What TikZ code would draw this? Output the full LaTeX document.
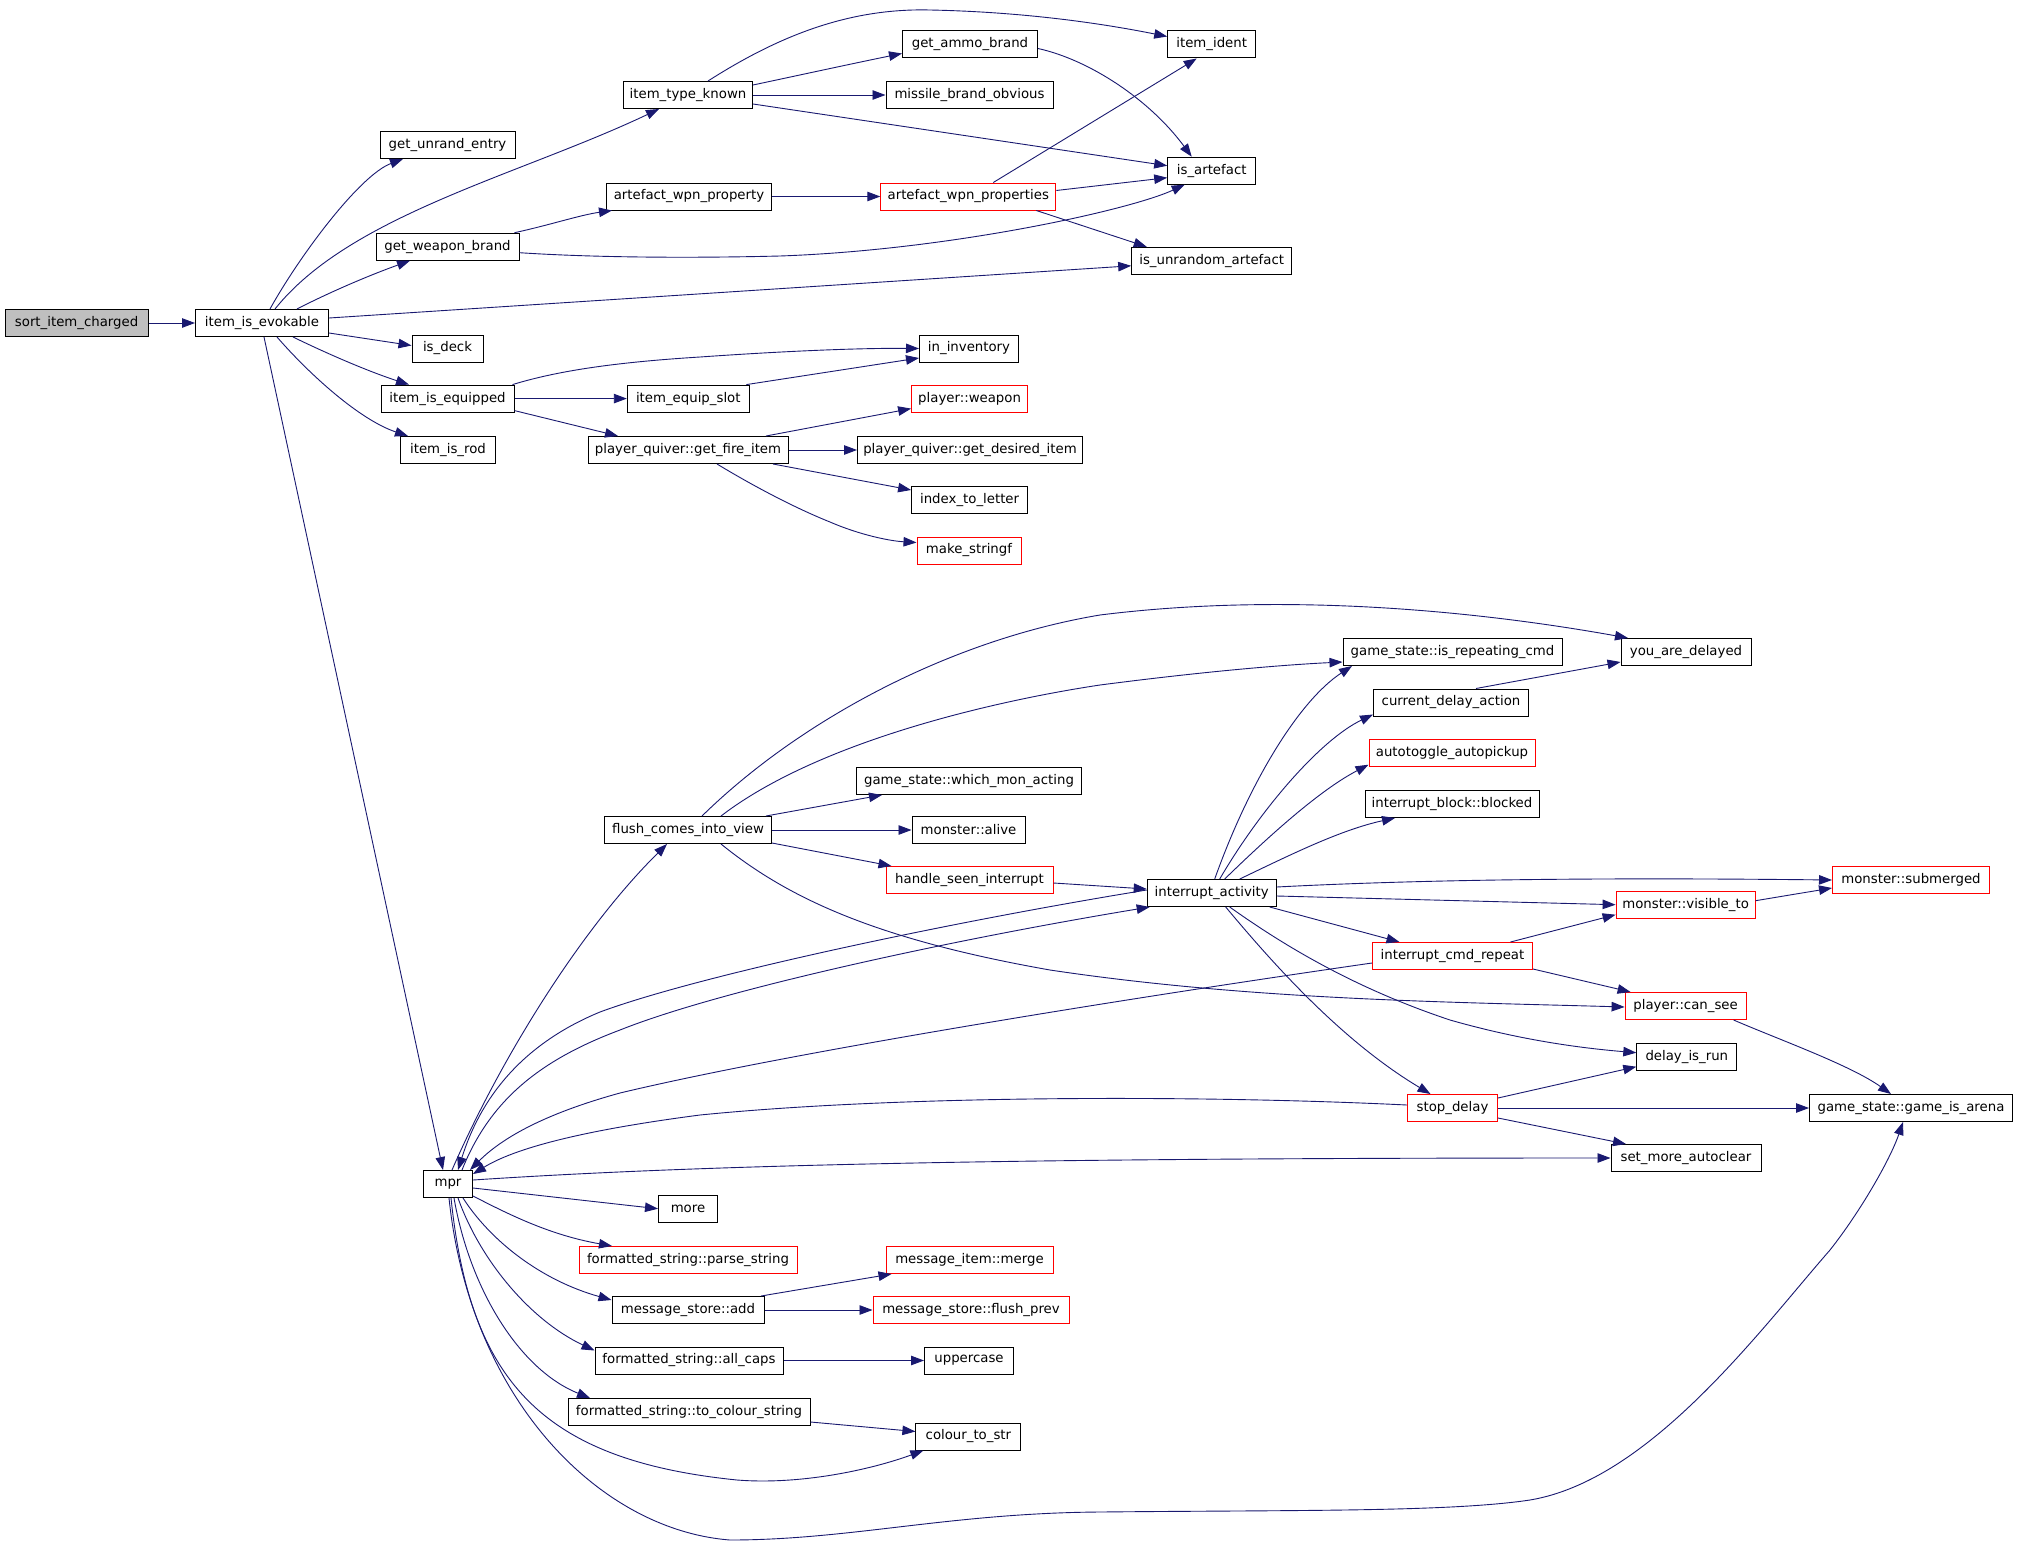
\documentclass[tikz,border=0pt]{standalone}
\usepackage{fontspec}
\setmainfont{DejaVu Sans}
\usetikzlibrary{arrows.meta}
\definecolor{edgeblue}{HTML}{191970}
\definecolor{nodered}{HTML}{FF0000}
\definecolor{rootgray}{HTML}{BFBFBF}
\begin{document}
\begin{tikzpicture}[x=1pt,y=-1pt,
  box/.style={draw=black, line width=1pt, fill=white, inner xsep=2pt, inner ysep=0pt,
    minimum height=27pt, font=\fontsize{13.3}{15}\selectfont},
  redbox/.style={box, draw=nodered},
  rootbox/.style={box, fill=rootgray},
  edge/.style={draw=edgeblue, line width=0.9pt, -{Triangle[length=13pt,width=9.5pt]}}]
\useasboundingbox[fill=white] (0,0) rectangle (2019,1555);

% ---- upper part ----
\node[rootbox, minimum width=143pt] (sort) at (76.6,323) {sort\_item\_charged};
\node[box, minimum width=133pt] (evok) at (262,323) {item\_is\_evokable};
\node[box, minimum width=135pt] (unrand) at (447.5,145) {get\_unrand\_entry};
\node[box, minimum width=129pt] (itk) at (688,95) {item\_type\_known};
\node[box, minimum width=88pt] (ident) at (1211.7,44.5) {item\_ident};
\node[box, minimum width=135pt] (ammo) at (970,44.5) {get\_ammo\_brand};
\node[box, minimum width=167pt] (mbo) at (969.5,95) {missile\_brand\_obvious};
\node[box, minimum width=88pt] (isart) at (1211.7,170.7) {is\_artefact};
\node[box, minimum width=165pt] (awp) at (689,196.5) {artefact\_wpn\_property};
\node[redbox, minimum width=175pt] (awps) at (968.3,196.5) {artefact\_wpn\_properties};
\node[box, minimum width=143pt] (gwb) at (447.5,246.7) {get\_weapon\_brand};
\node[box, minimum width=160pt] (unr) at (1211.7,260.8) {is\_unrandom\_artefact};
\node[box, minimum width=71pt] (deck) at (447.5,348.5) {is\_deck};
\node[box, minimum width=99pt] (inv) at (969,348.5) {in\_inventory};
\node[box, minimum width=133pt] (equip) at (447.5,398.6) {item\_is\_equipped};
\node[box, minimum width=122pt] (slot) at (688.3,398.6) {item\_equip\_slot};
\node[redbox, minimum width=116pt] (weapon) at (969.6,398.6) {player::weapon};
\node[box, minimum width=95pt] (rod) at (448,450) {item\_is\_rod};
\node[box, minimum width=200pt] (fire) at (688,450) {player\_quiver::get\_fire\_item};
\node[box, minimum width=225pt] (desired) at (970,450) {player\_quiver::get\_desired\_item};
\node[box, minimum width=116pt] (letter) at (969.6,500) {index\_to\_letter};
\node[redbox, minimum width=104pt] (mkstr) at (969,550.5) {make\_stringf};

% ---- lower part ----
\node[box, minimum width=130pt] (yad) at (1686,652) {you\_are\_delayed};
\node[box, minimum width=219pt] (rep) at (1452.5,652) {game\_state::is\_repeating\_cmd};
\node[box, minimum width=155pt] (cda) at (1451,702.5) {current\_delay\_action};
\node[redbox, minimum width=166pt] (auto) at (1452,752.7) {autotoggle\_autopickup};
\node[box, minimum width=225pt] (wma) at (969,781) {game\_state::which\_mon\_acting};
\node[box, minimum width=174pt] (blk) at (1452,804) {interrupt\_block::blocked};
\node[box, minimum width=167pt] (flush) at (688,830) {flush\_comes\_into\_view};
\node[box, minimum width=113pt] (alive) at (968.5,830) {monster::alive};
\node[redbox, minimum width=167pt] (hsi) at (969.5,880) {handle\_seen\_interrupt};
\node[box, minimum width=129pt] (ia) at (1211.7,893) {interrupt\_activity};
\node[redbox, minimum width=157pt] (sub) at (1911,880) {monster::submerged};
\node[redbox, minimum width=139pt] (vis) at (1685.6,904.7) {monster::visible\_to};
\node[redbox, minimum width=160pt] (icr) at (1452.5,956) {interrupt\_cmd\_repeat};
\node[redbox, minimum width=121pt] (cansee) at (1685.6,1006) {player::can\_see};
\node[box, minimum width=100pt] (dir) at (1686.8,1056.7) {delay\_is\_run};
\node[redbox, minimum width=90pt] (stop) at (1452.5,1108) {stop\_delay};
\node[box, minimum width=203pt] (arena) at (1911,1108) {game\_state::game\_is\_arena};
\node[box, minimum width=150pt] (smac) at (1686,1158) {set\_more\_autoclear};
\node[box, minimum width=49pt] (mpr) at (448,1184) {mpr};
\node[box, minimum width=59pt] (more) at (688,1208.7) {more};
\node[redbox, minimum width=218pt] (parse) at (688,1260) {formatted\_string::parse\_string};
\node[redbox, minimum width=167pt] (merge) at (969.5,1260) {message\_item::merge};
\node[box, minimum width=152pt] (add) at (688,1310) {message\_store::add};
\node[redbox, minimum width=196pt] (fprev) at (971,1310) {message\_store::flush\_prev};
\node[box, minimum width=188pt] (caps) at (689,1360.5) {formatted\_string::all\_caps};
\node[box, minimum width=89pt] (upper) at (969,1360.5) {uppercase};
\node[box, minimum width=242pt] (tcs) at (689,1412) {formatted\_string::to\_colour\_string};
\node[box, minimum width=105pt] (cts) at (968.4,1436.5) {colour\_to\_str};

% ---- edges, upper part ----
\draw[edge] (sort.east) -- (evok.west);
\draw[edge] ([xshift=8pt]evok.north) .. controls (300,255) and (360,175) .. ([xshift=-44.5pt]unrand.south);
\draw[edge] ([xshift=13pt]evok.north) .. controls (350,215) and (520,175) .. ([xshift=-29pt]itk.south);
\draw[edge] ([xshift=35pt]evok.north) .. controls (330,292) and (370,275) .. ([xshift=-37.5pt]gwb.south);
\draw[edge] ([yshift=5pt]evok.east) -- ([yshift=-5pt]unr.west);
\draw[edge] ([yshift=-10pt]evok.east) -- ([yshift=3pt]deck.west);
\draw[edge] ([xshift=31pt]evok.south) .. controls (330,355) and (370,372) .. ([xshift=-38.5pt]equip.north);
\draw[edge] ([xshift=15pt]evok.south) .. controls (310,375) and (360,420) .. ([xshift=-40pt]rod.north);
\draw[edge] ([xshift=2pt]evok.south) -- ([xshift=-5pt]mpr.north);

\draw[edge] ([xshift=20pt]itk.north) .. controls (780,35) and (850,8) .. (930,10)
   .. controls (1030,12) and (1110,25) .. ([yshift=8pt]ident.west);
\draw[edge] ([yshift=10pt]itk.east) .. controls (800,75) and (860,62) .. ([yshift=-9pt]ammo.west);
\draw[edge] (itk.east) -- (mbo.west);
\draw[edge] ([yshift=-9pt]itk.east) -- ([yshift=5pt]isart.west);
\draw[edge] ([yshift=-4pt]ammo.east) .. controls (1090,60) and (1150,100) .. ([xshift=-20pt]isart.north);
\draw[edge] (awp.east) -- (awps.west);
\draw[edge] ([xshift=25pt]awps.north) -- ([xshift=-15pt]ident.south);
\draw[edge] ([yshift=6pt]awps.east) -- ([yshift=-7pt]isart.west);
\draw[edge] ([xshift=68pt]awps.south) -- ([xshift=-65pt]unr.north);
\draw[edge] ([xshift=67pt]gwb.north) .. controls (550,225) and (580,215) .. ([xshift=-77pt]awp.south);
\draw[edge] ([yshift=-6pt]gwb.east) .. controls (600,258) and (700,258) .. (780,256)
   .. controls (950,250) and (1130,210) .. ([xshift=-27pt]isart.south);
\draw[edge] ([xshift=65pt]equip.north) .. controls (560,370) and (620,362) .. (700,357)
   .. controls (800,350) and (870,348) .. (inv.west);
\draw[edge] (equip.east) -- (slot.west);
\draw[edge] ([yshift=-12pt]equip.east) -- ([xshift=-70pt]fire.north);
\draw[edge] ([xshift=58pt]slot.north) -- ([yshift=-9.5pt]inv.west);
\draw[edge] ([xshift=78pt]fire.north) -- ([yshift=-10pt]weapon.west);
\draw[edge] (fire.east) -- (desired.west);
\draw[edge] ([xshift=85pt]fire.south) -- ([yshift=10pt]letter.west);
\draw[edge] ([xshift=29pt]fire.south) .. controls (760,490) and (800,510) .. (830,522)
   .. controls (860,535) and (890,541) .. ([yshift=8pt]mkstr.west);

% ---- edges, lower part ----
\draw[edge] ([xshift=14pt]flush.north) .. controls (800,720) and (950,640) .. (1100,615)
   .. controls (1300,590) and (1500,615) .. ([xshift=-58pt]yad.north);
\draw[edge] ([xshift=33pt]flush.north) .. controls (820,740) and (1000,700) .. (1100,685)
   .. controls (1200,672) and (1280,665) .. ([yshift=-10pt]rep.west);
\draw[edge] ([xshift=78pt]flush.north) -- ([xshift=-87pt]wma.south);
\draw[edge] (flush.east) -- (alive.west);
\draw[edge] ([yshift=-13pt]flush.east) -- ([xshift=-78pt]hsi.north);
\draw[edge] ([xshift=33pt]flush.south) .. controls (790,900) and (880,940) .. (1050,970)
   .. controls (1250,1000) and (1450,1002) .. ([yshift=-1pt]cansee.west);
\draw[edge] ([yshift=-3pt]hsi.east) -- ([yshift=4pt]ia.west);

\draw[edge] ([xshift=3pt]ia.north) .. controls (1250,780) and (1300,700) .. ([xshift=-100.5pt]rep.south);
\draw[edge] ([xshift=8pt]ia.north) .. controls (1260,810) and (1320,740) .. ([yshift=-12pt]cda.west);
\draw[edge] ([xshift=13pt]ia.north) .. controls (1270,835) and (1320,790) .. ([yshift=-12pt]auto.west);
\draw[edge] ([xshift=28pt]ia.north) .. controls (1290,855) and (1340,830) .. ([xshift=-57pt]blk.south);
\draw[edge] ([yshift=6pt]ia.east) .. controls (1450,878) and (1650,878) .. (sub.west);
\draw[edge] ([yshift=-3pt]ia.east) -- (vis.west);
\draw[edge] ([xshift=58pt]ia.south) -- ([xshift=-53pt]icr.north);
\draw[edge] ([xshift=18pt]ia.south) .. controls (1290,950) and (1360,990) .. (1450,1020)
   .. controls (1520,1040) and (1580,1048) .. ([yshift=4pt]dir.west);
\draw[edge] ([xshift=14pt]ia.south) .. controls (1270,960) and (1340,1040) .. ([xshift=-22pt]stop.north);
\draw[edge] ([yshift=3pt]ia.west) .. controls (950,922) and (700,975) .. (600,1012)
   .. controls (520,1045) and (480,1100) .. ([xshift=10pt]mpr.north);
\draw[edge] ([xshift=14pt]mpr.north) .. controls (490,1100) and (540,1060) .. (620,1030)
   .. controls (720,990) and (950,940) .. ([xshift=3pt]ia.south west);

\draw[edge] ([yshift=-7pt]icr.west) .. controls (1150,995) and (800,1050) .. (620,1093)
   .. controls (540,1115) and (500,1140) .. ([xshift=22pt]mpr.north);
\draw[edge] ([xshift=58pt]icr.north) -- ([yshift=-10pt]vis.west);
\draw[edge] ([yshift=-13pt]icr.east) -- ([xshift=-55pt]cansee.north);
\draw[edge] ([yshift=4pt]vis.east) -- ([yshift=-8pt]sub.west);
\draw[edge] ([xshift=48pt]cansee.south) .. controls (1780,1040) and (1850,1065) .. ([xshift=-20pt]arena.north);
\draw[edge] ([xshift=25pt]cda.north) -- ([yshift=-10pt]yad.west);

\draw[edge] ([yshift=3pt]stop.west) .. controls (1200,1095) and (900,1095) .. (700,1115)
   .. controls (600,1128) and (520,1145) .. ([yshift=-4pt]mpr.north east);
\draw[edge] ([yshift=10pt]stop.east) -- ([yshift=-10pt]dir.west);
\draw[edge] (stop.east) -- (arena.west);
\draw[edge] ([yshift=-10pt]stop.east) -- ([xshift=-60pt]smac.north);

\draw[edge] ([xshift=4pt]mpr.north) .. controls (500,1060) and (580,930) .. ([xshift=-21pt]flush.south);
\draw[edge] ([yshift=4pt]mpr.east) .. controls (700,1165) and (1000,1158) .. (smac.west);
\draw[edge] ([yshift=-4pt]mpr.east) -- (more.west);
\draw[edge] ([yshift=-12pt]mpr.east) .. controls (510,1215) and (550,1235) .. ([xshift=-76pt]parse.north);
\draw[edge] ([xshift=15pt]mpr.south) .. controls (490,1240) and (540,1280) .. ([yshift=10pt]add.west);
\draw[edge] ([xshift=10pt]mpr.south) .. controls (480,1260) and (530,1320) .. ([yshift=10pt]caps.west);
\draw[edge] ([xshift=6pt]mpr.south) .. controls (470,1290) and (520,1370) .. ([xshift=-99pt]tcs.north);
\draw[edge] ([xshift=3pt]mpr.south) .. controls (470,1380) and (540,1460) .. (737,1480)
   .. controls (800,1485) and (870,1470) .. ([xshift=-45pt]cts.south);
\draw[edge] ([xshift=1pt]mpr.south) .. controls (470,1400) and (600,1530) .. (730,1540)
   .. controls (850,1540) and (950,1513) .. (1100,1512)
   .. controls (1300,1510) and (1450,1512) .. (1530,1500)
   .. controls (1650,1480) and (1760,1330) .. (1830,1250)
   .. controls (1860,1212) and (1890,1160) .. ([xshift=-8pt]arena.south);
\draw[edge] ([xshift=73pt]add.north) -- ([xshift=-78pt]merge.south);
\draw[edge] (add.east) -- (fprev.west);
\draw[edge] (caps.east) -- (upper.west);
\draw[edge] ([yshift=-10pt]tcs.east) -- ([yshift=5pt]cts.west);
\end{tikzpicture}
\end{document}
